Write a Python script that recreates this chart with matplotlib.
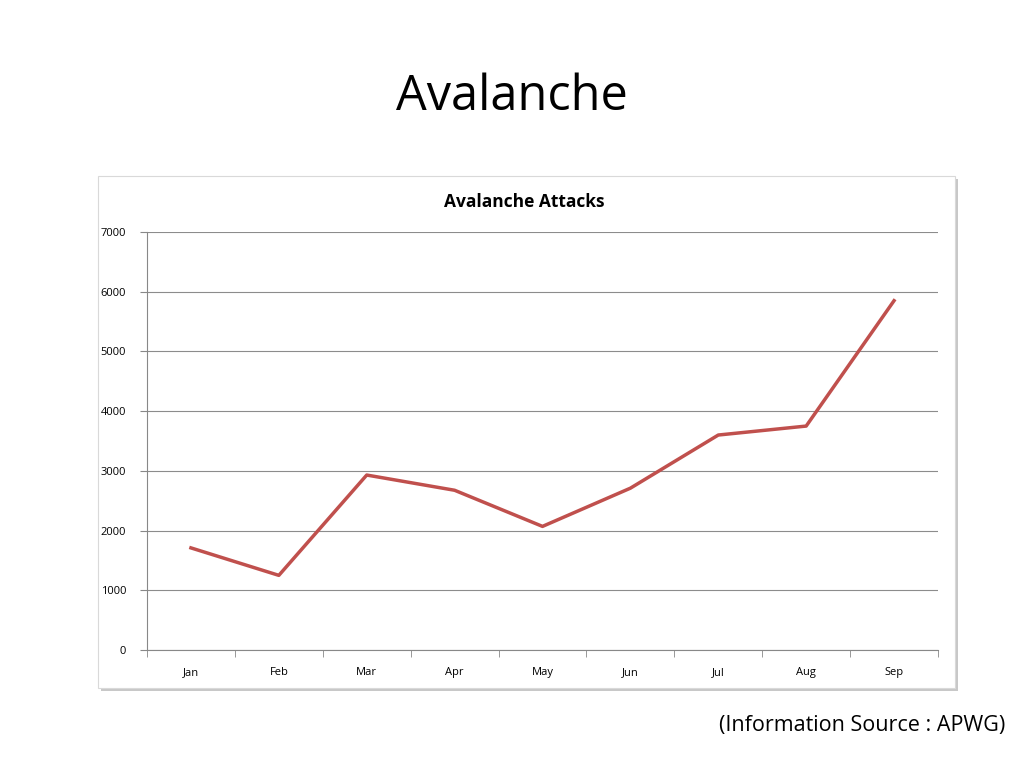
import matplotlib
matplotlib.use("Agg")
import matplotlib.pyplot as plt
from matplotlib.patches import Rectangle
import numpy as np

months = ["Jan", "Feb", "Mar", "Apr", "May", "Jun", "Jul", "Aug", "Sep"]
attacks = [1710, 1250, 2930, 2675, 2070, 2710, 3600, 3750, 5850]
yticks = [0, 1000, 2000, 3000, 4000, 5000, 6000, 7000]

plt.rcParams['font.family'] = ['Open Sans', 'DejaVu Sans']
fig = plt.figure(figsize=(10.24, 7.68), dpi=100)
W, H = 1024, 768

# shadow + chart box
fig.patches.append(Rectangle((101/W, 1-691/H), 857/W, 512/H, transform=fig.transFigure,
                             facecolor="#c8c8c8", edgecolor="none", zorder=0))
fig.patches.append(Rectangle((98/W, 1-688/H), 857/W, 512/H, transform=fig.transFigure,
                             facecolor="white", edgecolor="#d9d9d9", lw=0.8, zorder=1))

fig.text(0.5, 1-97/H, "Avalanche", ha="center", va="center", fontsize=35)
fig.text(524/W, 1-202/H, "Avalanche Attacks", ha="center", va="center", fontsize=12.5, fontweight="bold")
fig.text(1005/W, 1-725/H, "(Information Source : APWG)", ha="right", va="center", fontsize=15.5)

ax = fig.add_axes([147/W, 1-650/H, 791/W, 418/H])
ax.set_zorder(2)
ax.patch.set_alpha(0)
x = np.arange(len(months))
ax.plot(x, attacks, color="#c0504d", lw=2.5)
ax.set_xlim(-0.5, len(months)-0.5)
ax.set_ylim(0, 7000)
ax.set_yticks(yticks)
ax.set_yticklabels([str(v) for v in yticks], fontsize=8)
ax.set_xticks(x)
ax.set_xticklabels(months, fontsize=8)
ax.set_xticks(np.arange(len(months)+1)-0.5, minor=True)
ax.tick_params(axis="x", which="major", length=0, pad=12)
ax.tick_params(axis="x", which="minor", length=5, color="#888888", direction="out")
ax.tick_params(axis="y", length=5, color="#888888", pad=10)
ax.grid(axis="y", color="#8c8c8c", lw=0.8)
ax.set_axisbelow(True)
for s in ["top", "right"]:
    ax.spines[s].set_visible(False)
ax.spines["left"].set_color("#888888")
ax.spines["bottom"].set_color("#888888")

fig.savefig("out.png", dpi=100)
